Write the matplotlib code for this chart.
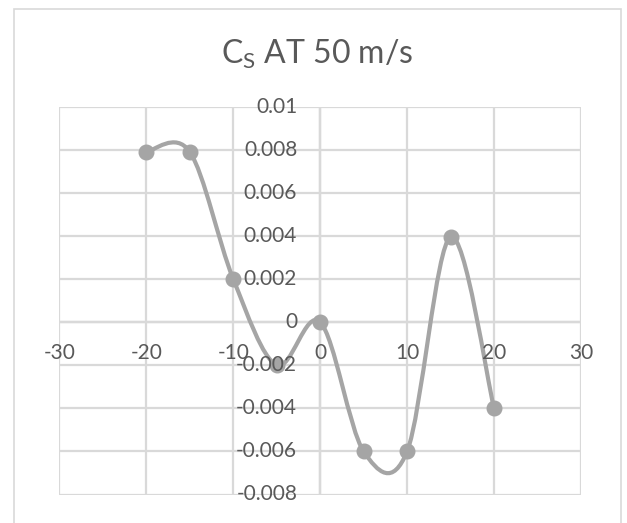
import numpy as np
import matplotlib

matplotlib.use("Agg")

import matplotlib.pyplot as plt
from matplotlib.path import Path
from matplotlib.patches import PathPatch, Rectangle

# data
angles = [-20, -15, -10, -5, 0, 5, 10, 15, 20]
cs = [0.0079, 0.0079, 0.002, -0.002, 0.0, -0.006, -0.006, 0.00395, -0.004]

x_ticks = [-30, -20, -10, 0, 10, 20, 30]
y_ticks = [-0.008, -0.006, -0.004, -0.002, 0, 0.002, 0.004, 0.006, 0.008, 0.01]
y_labels = ["-0.008", "-0.006", "-0.004", "-0.002", "0", "0.002", "0.004", "0.006", "0.008", "0.01"]

plt.rcParams["font.family"] = ["Lato", "DejaVu Sans"]
plt.rcParams["mathtext.fontset"] = "custom"
plt.rcParams["mathtext.rm"] = "Lato"

line_c = "#A5A5A5"
grid_c = "#D9D9D9"
text_c = "#595959"

fig = plt.figure(figsize=(6.27, 5.23), dpi=100)
ax = fig.add_axes([59.3 / 627, 1 - 494.5 / 523, (581 - 59.3) / 627, (494.5 - 106.5) / 523])

ax.set_xlim(-30, 30)
ax.set_ylim(-0.008, 0.01)
ax.set_xticks(x_ticks)
ax.set_yticks(y_ticks)
ax.grid(True, color=grid_c, lw=1.6)
ax.tick_params(length=0, labelbottom=False, labelleft=False)
for s in ax.spines.values():
    s.set_visible(False)
ax.axhline(0, color="#BFBFBF", lw=1.6, zorder=1)
ax.axvline(0, color="#BFBFBF", lw=1.6, zorder=1)

# excel-like smoothed line: bezier through points, tangents from neighbours (pixel space)
pts = ax.transData.transform(np.column_stack([angles, cs]))
verts = [pts[0]]
codes = [Path.MOVETO]
n = len(pts)
for i in range(n - 1):
    p0 = pts[max(i - 1, 0)]
    p1 = pts[i]
    p2 = pts[i + 1]
    p3 = pts[min(i + 2, n - 1)]
    c1 = p1 + (p2 - p0) / 6.0
    c2 = p2 - (p3 - p1) / 6.0
    verts += [c1, c2, p2]
    codes += [Path.CURVE4] * 3
verts = ax.transData.inverted().transform(np.array(verts))
ax.add_patch(PathPatch(Path(verts, codes), fill=False, edgecolor=line_c, lw=3, zorder=3,
                       capstyle="round", joinstyle="round"))
ax.plot(angles, cs, "o", color=line_c, ms=10.5, zorder=4)

# tick labels sitting next to the axes that cross at zero (drawn over the series, like excel)
for xt in x_ticks:
    ax.annotate(str(xt), (xt, 0), xytext=(0, -22), textcoords="offset points",
                ha="center", va="center", fontsize=15, color=text_c, zorder=5)
for yt, lab in zip(y_ticks, y_labels):
    ax.annotate(lab, (0, yt), xytext=(-16.5, 0), textcoords="offset points",
                ha="right", va="center", fontsize=15, color=text_c, zorder=5)

fig.text(317.6 / 627, 1 - 64 / 523, r"C$_\mathrm{S}$ AT 50 m/s", ha="center", va="baseline",
         fontsize=23, color=text_c)

fig.patches.append(Rectangle((14 / 627, -0.05), (621 - 14) / 627, 1.05 - 9 / 523,
                             transform=fig.transFigure, fill=False, edgecolor=grid_c, lw=1.2))

fig.savefig("out.png", dpi=100)
